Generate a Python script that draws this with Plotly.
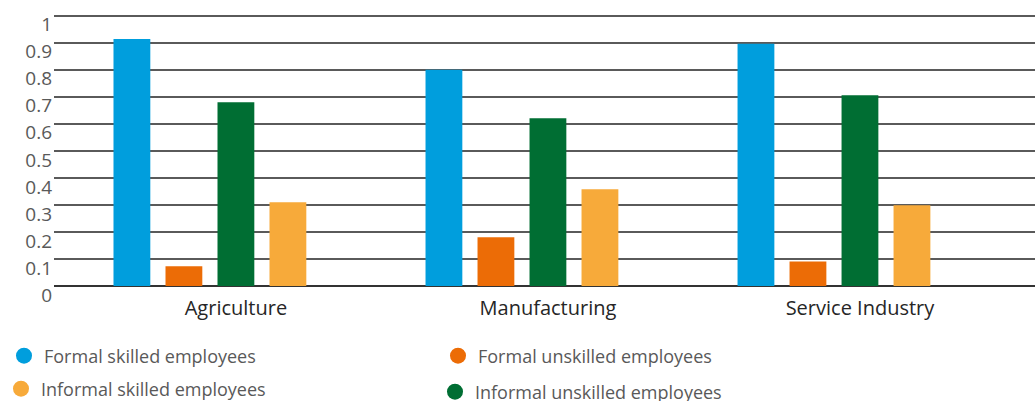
import plotly.graph_objects as go

categories = ["Agriculture", "Manufacturing", "Service Industry"]
formal_skilled = [0.914, 0.80, 0.896]
formal_unskilled = [0.073, 0.18, 0.091]
informal_unskilled = [0.68, 0.621, 0.706]
informal_skilled = [0.31, 0.358, 0.299]
y_ticks = [0, 0.1, 0.2, 0.3, 0.4, 0.5, 0.6, 0.7, 0.8, 0.9, 1]
y_tick_labels = ["0", "0.1", "0.2", "0.3", "0.4", "0.5", "0.6", "0.7", "0.8", "0.9", "1"]

series = [
    ("Formal skilled employees", formal_skilled, "#009EDD", 0, 1),
    ("Formal unskilled employees", formal_unskilled, "#EC6C06", 1, 2),
    ("Informal unskilled employees", informal_unskilled, "#006E33", 2, 4),
    ("Informal skilled employees", informal_skilled, "#F7AA3A", 3, 3),
]

legend_pos = {
    1: ("legend", 4, 356),
    2: ("legend2", 438, 356),
    3: ("legend3", 1, 389),
    4: ("legend4", 435, 392),
}

W, H = 1035, 401
slot = 1 / 6
bw = 0.118

fig = go.Figure()
for name, vals, color, idx, rank in series:
    fig.add_trace(go.Bar(
        x=categories, y=vals, name=name, marker_color=color,
        width=bw, offset=(idx - 2) * slot - bw / 2, showlegend=False,
        marker_line_width=0,
    ))
for name, vals, color, idx, rank in series:
    lg = legend_pos[rank][0]
    fig.add_trace(go.Scatter(
        x=[None], y=[None], mode="markers", name=name,
        marker=dict(symbol="circle", size=20, color=color),
        showlegend=True, legend=lg,
    ))

layout_legends = {}
for rank, (lg, lx, ly) in legend_pos.items():
    layout_legends[lg] = dict(
        xref="container", yref="container",
        x=lx / W, y=1 - ly / H, xanchor="left", yanchor="middle",
        font=dict(family="Open Sans", size=18, color="#595959"),
        bgcolor="rgba(0,0,0,0)", itemsizing="trace",
    )

fig.update_layout(
    width=W, height=H,
    margin=dict(l=54, r=0, t=13, b=115, autoexpand=False),
    plot_bgcolor="white", paper_bgcolor="white",
    barmode="overlay",
    xaxis=dict(
        type="category", range=[-0.583, 2.561],
        showgrid=False, showline=False, zeroline=False, ticks="",
        tickfont=dict(family="Open Sans", size=20, color="#262626"),
        ticklabelstandoff=8, tickangle=0, automargin=False,
    ),
    yaxis=dict(
        range=[0, 1.01], tickvals=y_ticks, ticktext=y_tick_labels,
        showgrid=True, gridcolor="#5a5a5a", gridwidth=1.5,
        zeroline=True, zerolinecolor="#333333", zerolinewidth=1.5,
        showline=False, ticks="", automargin=False,
        tickfont=dict(family="Open Sans", size=19, color="#595959"),
        ticklabelshift=9, ticklabelstandoff=1,
    ),
    **layout_legends,
)

fig.write_html(
    "out.html",
    config={"displayModeBar": False},
    post_script="document.body.style.margin='0';document.body.style.overflow='hidden';",
)
